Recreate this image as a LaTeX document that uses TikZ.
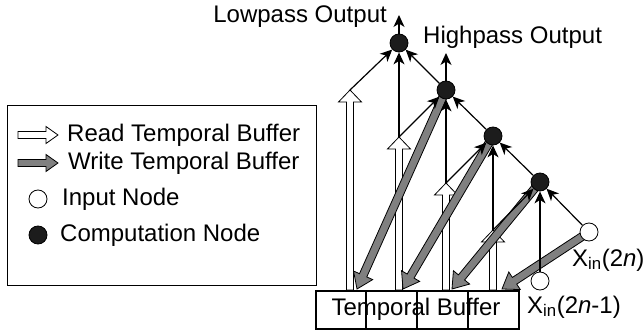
\documentclass[tikz,border=0pt]{standalone}
\usepackage{fontspec}
\setmainfont{Liberation Sans}
\usetikzlibrary{arrows.meta,calc}
\pgfdeclarelayer{bg}
\pgfsetlayers{bg,main}
% #1 head length, #2 from, #3 to, #4 fill, #5 shaft half width, #6 head half width
\newcommand{\blockarr}[6]{%
  \coordinate (ba-h) at ($(#3)!#1!(#2)$);
  \filldraw[fill=#4,draw=black,line width=0.8pt,line join=miter]
    ($(#2)!#5!90:(#3)$) -- ($(ba-h)!#5!90:(#3)$) -- ($(ba-h)!#6!90:(#3)$) -- (#3)
    -- ($(ba-h)!#6!-90:(#3)$) -- ($(ba-h)!#5!-90:(#3)$) -- ($(#2)!#5!-90:(#3)$) -- cycle;}
\begin{document}
\begin{tikzpicture}[x=1pt,y=-1pt,
  comp/.style={circle,draw=black,fill=black!89,line width=0.8pt,minimum size=18pt,inner sep=0pt},
  inp/.style={circle,draw=black,fill=white,line width=0.8pt,minimum size=18pt,inner sep=0pt},
  sig/.style={line width=1.2pt,-{Stealth[length=12pt,width=11pt,inset=3.5pt]}},
  lbl/.style={font=\fontsize{24}{28}\selectfont,inner sep=0pt},
  ]
\useasboundingbox (0,0) rectangle (644,331);

% legend
\node[draw,line width=1pt,minimum width=309pt,minimum height=180pt,inner sep=0pt,anchor=north west] (legend) at (7,105) {};
\coordinate (lr1) at (18,135); \coordinate (lr2) at (58,135);
\coordinate (lw1) at (18,163); \coordinate (lw2) at (58,163);
\blockarr{12pt}{lr1}{lr2}{white}{3.5pt}{8.5pt}
\blockarr{12pt}{lw1}{lw2}{black!50}{3.5pt}{8.5pt}
\node[lbl,anchor=west] (lrt) at (67,135) {Read Temporal Buffer};
\node[lbl,anchor=west] (lwt) at (68,163) {Write Temporal Buffer};
\node[inp] (lin) at (38,199) {};
\node[lbl,anchor=west] (lint) at (62,199) {Input Node};
\node[comp] (lcn) at (38,235) {};
\node[lbl,anchor=west] (lcnt) at (60,235) {Computation Node};

% buffer
\node[draw,line width=1.5pt,minimum width=203pt,minimum height=38pt,inner sep=0pt,anchor=north west] (buf) at (315,290) {};
\draw[line width=1.5pt] (366,290) -- (366,328) (417,290) -- (417,328) (468,290) -- (468,328);
\node[lbl] (buftxt) at (416,309) {Temporal Buffer};

% nodes
\node[comp] (C1) at (399,43) {};
\node[comp] (C2) at (446,90) {};
\node[comp] (C3) at (493,136) {};
\node[comp] (C4) at (540,182) {};
\node[inp] (I1) at (589,232) {};
\node[inp] (I0) at (540,281) {};

\coordinate (t1) at (350,90);  \coordinate (b1) at (350,290);
\coordinate (t2) at (399,137); \coordinate (b2) at (399,290);
\coordinate (t3) at (446,183); \coordinate (b3) at (446,290);
\coordinate (t4) at (493,230); \coordinate (b4) at (493,290);
\coordinate (w1) at (357,289); \coordinate (w2) at (403,289);
\coordinate (w3) at (452,289); \coordinate (w4) at (502,289);
\coordinate (lo) at (399,15);  \coordinate (hi) at (446,53);

\begin{pgfonlayer}{bg}
\blockarr{12pt}{b1}{t1}{white}{3.5pt}{11.5pt}
\blockarr{12pt}{b2}{t2}{white}{3.5pt}{11.5pt}
\blockarr{12pt}{b3}{t3}{white}{3.5pt}{11.5pt}
\blockarr{12pt}{b4}{t4}{white}{3.5pt}{11.5pt}
\blockarr{15pt}{C2.center}{w1}{black!50}{4pt}{10.5pt}
\blockarr{15pt}{C3.center}{w2}{black!50}{4pt}{10.5pt}
\blockarr{15pt}{C4.center}{w3}{black!50}{4pt}{10.5pt}
\blockarr{15pt}{I1.center}{w4}{black!50}{4pt}{10.5pt}
\end{pgfonlayer}

\draw[sig] (t1) -- (C1);
\draw[sig] (t2) -- (C1);
\draw[sig] (t2) -- (C2);
\draw[sig] (t3) -- (C2);
\draw[sig] (t3) -- (C3);
\draw[sig] (t4) -- (C3);
\draw[sig] (t4) -- (C4);
\draw[sig] (I0) -- (C4);
\draw[sig] (I1) -- (C4);
\draw[sig] (C4) -- (C3);
\draw[sig] (C3) -- (C2);
\draw[sig] (C2) -- (C1);
\draw[sig] (C1) -- (lo);
\draw[sig] (C2) -- (hi);

\node[lbl,anchor=east] (lotxt) at (387,17) {Lowpass Output};
\node[lbl,anchor=west] (hitxt) at (423,37) {Highpass Output};
\node[lbl,anchor=west] (x2n) at (572,260) {X\textsubscript{in}(2\textit{n})};
\node[lbl,anchor=west] (x2n1) at (527,307) {X\textsubscript{in}(2\textit{n}-1)};
\end{tikzpicture}
\end{document}
